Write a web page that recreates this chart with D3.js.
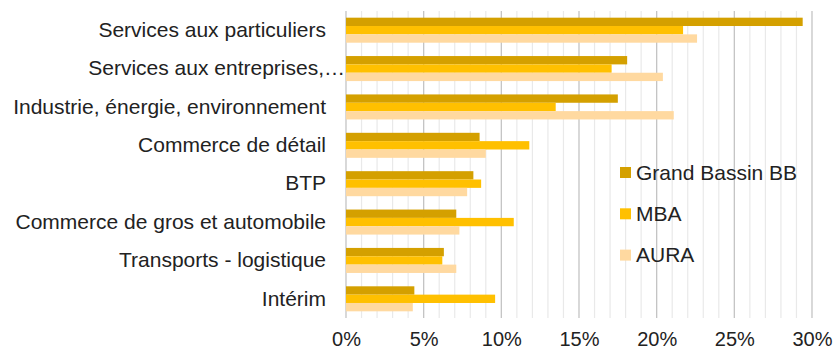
<!DOCTYPE html>
<html>
<head>
<meta charset="utf-8">
<script src="https://cdn.jsdelivr.net/npm/d3@7"></script>
<style>
  html, body { margin: 0; padding: 0; background: #fff; }
  svg { display: block; }
  text { font-family: "Liberation Sans", Arial, sans-serif; fill: #222; }
</style>
</head>
<body>
<svg id="chart" width="834" height="351"></svg>
<script>
// Sector shares by territory
const categories = [
  "Services aux particuliers",
  "Services aux entreprises,…",
  "Industrie, énergie, environnement",
  "Commerce de détail",
  "BTP",
  "Commerce de gros et automobile",
  "Transports - logistique",
  "Intérim"
];
const seriesNames = ["Grand Bassin BB", "MBA", "AURA"];
const grandBassin = [29.4, 18.1, 17.5, 8.6, 8.2, 7.1, 6.3, 4.4];
const mba         = [21.7, 17.1, 13.5, 11.8, 8.7, 10.8, 6.2, 9.6];
const aura        = [22.6, 20.4, 21.1, 9.0, 7.8, 7.3, 7.1, 4.3];
const xTicks = [0, 5, 10, 15, 20, 25, 30];
const colors = ["#D4A000", "#FFC000", "#FFD9A0"];

const seriesValues = [grandBassin, mba, aura];
const rows = categories.map((c, i) => ({
  category: c,
  values: seriesNames.map((s, j) => ({ series: s, value: seriesValues[j][i] }))
}));

const svg = d3.select("#chart");
const plotLeft = 346, plotRight = 812, plotTop = 11, plotBottom = 318;
const fontSize = "21px";

const x = d3.scaleLinear().domain([0, 30]).range([plotLeft, plotRight]);
const y0 = d3.scaleBand().domain(categories).range([plotTop, plotBottom]).padding(0);
const y1 = d3.scaleBand().domain(seriesNames).range([0, y0.bandwidth()])
  .paddingInner(0).paddingOuter(0.8);
const color = d3.scaleOrdinal().domain(seriesNames).range(colors);

// minor gridlines every 1%
svg.append("g")
  .selectAll("line")
  .data(d3.range(1, 31).filter(v => v % 5 !== 0))
  .join("line")
  .attr("x1", d => x(d)).attr("x2", d => x(d))
  .attr("y1", plotTop).attr("y2", plotBottom)
  .attr("stroke", "#e9e9e9").attr("stroke-width", 1.2);

// major gridlines every 5%
svg.append("g")
  .selectAll("line")
  .data(xTicks)
  .join("line")
  .attr("x1", d => x(d)).attr("x2", d => x(d))
  .attr("y1", plotTop).attr("y2", plotBottom)
  .attr("stroke", "#c4c4c4").attr("stroke-width", 1.3);

// bars
const groups = svg.append("g")
  .selectAll("g")
  .data(rows)
  .join("g")
  .attr("transform", d => `translate(0,${y0(d.category)})`);

groups.selectAll("rect")
  .data(d => d.values)
  .join("rect")
  .attr("x", x(0))
  .attr("y", d => y1(d.series))
  .attr("width", d => x(d.value) - x(0))
  .attr("height", y1.bandwidth())
  .attr("fill", d => color(d.series));

// x axis labels
const xAxis = d3.axisBottom(x)
  .tickValues(xTicks)
  .tickFormat(d => d + "%")
  .tickSize(0)
  .tickPadding(14);
const gx = svg.append("g")
  .attr("transform", `translate(0,${plotBottom})`)
  .call(xAxis);
gx.select(".domain").remove();
gx.selectAll("text")
  .style("font-size", "20px")
  .style("font-family", "'Liberation Sans', Arial, sans-serif")
  .attr("fill", "#222");

// y axis labels
const yAxis = d3.axisLeft(y0).tickSize(0).tickPadding(20);
const gy = svg.append("g")
  .attr("transform", `translate(${plotLeft},0)`)
  .call(yAxis);
gy.select(".domain").remove();
gy.selectAll("text")
  .style("font-size", fontSize)
  .style("font-family", "'Liberation Sans', Arial, sans-serif")
  .attr("fill", "#222");
// the truncated label overflows towards the axis
gy.selectAll("text")
  .filter(d => d.endsWith("…"))
  .attr("x", -1);

// legend
const legend = svg.append("g")
  .selectAll("g")
  .data(seriesNames)
  .join("g")
  .attr("transform", (d, i) => `translate(620,${172.5 + i * 41.3})`);
legend.append("rect")
  .attr("x", 0).attr("y", -5.5)
  .attr("width", 11).attr("height", 11)
  .attr("fill", d => color(d));
legend.append("text")
  .attr("x", 16).attr("y", 0)
  .attr("dy", "0.35em")
  .style("font-size", fontSize)
  .text(d => d);
</script>
</body>
</html>
